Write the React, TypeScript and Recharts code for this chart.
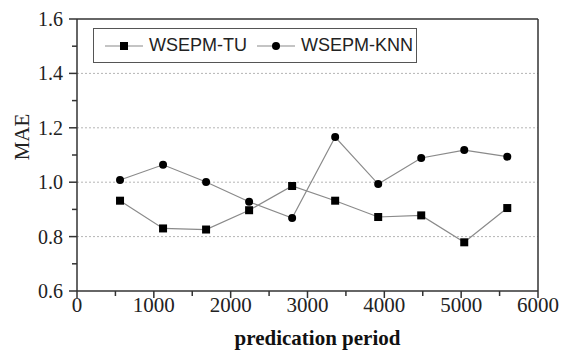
import React from 'react';
import {
  LineChart,
  Line,
  XAxis,
  YAxis,
  CartesianGrid,
  Legend,
  ReferenceLine,
} from 'recharts';

const periods = [560, 1120, 1680, 2240, 2800, 3360, 3920, 4480, 5040, 5600];
const tuValues = [0.932, 0.83, 0.826, 0.897, 0.986, 0.932, 0.872, 0.878, 0.779, 0.905];
const knnValues = [1.008, 1.064, 1.001, 0.928, 0.868, 1.166, 0.993, 1.089, 1.118, 1.094];

const xTicks = [0, 500, 1000, 1500, 2000, 2500, 3000, 3500, 4000, 4500, 5000, 5500, 6000];
const yTicks = [0.6, 0.7, 0.8, 0.9, 1.0, 1.1, 1.2, 1.3, 1.4, 1.5, 1.6];
const gridValues = [0.8, 1.0, 1.2, 1.4];

const SERIES = [
  { key: 'tu', name: 'WSEPM-TU', marker: 'square' },
  { key: 'knn', name: 'WSEPM-KNN', marker: 'circle' },
];

const data = periods.map((p, i) => ({ period: p, tu: tuValues[i], knn: knnValues[i] }));

const AXIS = '#333';
const LINE = '#8a8a8a';
const SERIF = '"Liberation Serif", "Times New Roman", serif';
const SANS = '"Liberation Sans", Arial, sans-serif';

const XTick = (props: any) => {
  const { x, y, payload } = props;
  const major = payload.value % 1000 === 0;
  return (
    <g>
      <line x1={x} x2={x} y1={y} y2={y + (major ? 7 : 5)} stroke={AXIS} strokeWidth={1.5} />
      {major && (
        <text x={x} y={y + 21} textAnchor="middle" fontFamily={SERIF} fontSize={21} fill="#222">
          {payload.value}
        </text>
      )}
    </g>
  );
};

const YTick = (props: any) => {
  const { x, y, payload } = props;
  const major = Math.round(payload.value * 10) % 2 === 0;
  return (
    <g>
      <line x1={x} x2={x - (major ? 8 : 5)} y1={y} y2={y} stroke={AXIS} strokeWidth={1.5} />
      {major && (
        <text x={x - 14} y={y} dy="0.35em" textAnchor="end" fontFamily={SERIF} fontSize={20} fill="#222">
          {payload.value.toFixed(1)}
        </text>
      )}
    </g>
  );
};

const SquareDot = (props: any) => {
  const { cx, cy } = props;
  if (cx == null || cy == null) return null;
  return <rect x={cx - 4} y={cy - 4} width={8} height={8} fill="#000" />;
};

const CircleDot = (props: any) => {
  const { cx, cy } = props;
  if (cx == null || cy == null) return null;
  return <circle cx={cx} cy={cy} r={4} fill="#000" />;
};

const LegendBox = () => (
  <div
    style={{
      boxSizing: 'border-box',
      width: 324,
      height: 35,
      border: '1.5px solid #555',
      display: 'flex',
      alignItems: 'center',
      paddingLeft: 11,
      fontFamily: SANS,
      fontSize: 18,
      color: '#222',
      background: '#fff',
    }}
  >
    {SERIES.map((s, i) => (
      <div key={s.key} style={{ display: 'flex', alignItems: 'center', marginLeft: i === 0 ? 0 : 10 }}>
        <svg width={38} height={12}>
          <line x1={0} x2={38} y1={6} y2={6} stroke={LINE} strokeWidth={1.2} />
          {s.marker === 'square' ? (
            <rect x={15} y={2} width={8} height={8} fill="#000" />
          ) : (
            <circle cx={19} cy={6} r={4} fill="#000" />
          )}
        </svg>
        <span style={{ marginLeft: 6 }}>{s.name}</span>
      </div>
    ))}
  </div>
);

export default function App() {
  return (
    <div style={{ position: 'absolute', left: 0, top: 0, background: '#fff' }}>
      <LineChart width={565} height={351} data={data} margin={{ top: 19, right: 27, left: 0, bottom: 0 }}>
        <CartesianGrid
          vertical={false}
          horizontalValues={gridValues}
          stroke="#b5b5b5"
          strokeDasharray="2 2"
        />
        <XAxis
          dataKey="period"
          type="number"
          domain={[0, 6000]}
          ticks={xTicks}
          interval={0}
          tick={<XTick />}
          tickLine={false}
          tickSize={0}
          tickMargin={0}
          height={60}
          axisLine={{ stroke: AXIS, strokeWidth: 1.5 }}
          label={(p: any) => {
            const vb = p.viewBox;
            return (
              <text
                x={vb.x + vb.width / 2 + 10}
                y={345}
                textAnchor="middle"
                fontFamily={SERIF}
                fontWeight="bold"
                fontSize={21}
                fill="#111"
              >
                predication period
              </text>
            );
          }}
        />
        <YAxis
          type="number"
          domain={[0.6, 1.6]}
          ticks={yTicks}
          interval={0}
          tick={<YTick />}
          tickLine={false}
          tickSize={0}
          tickMargin={0}
          width={77}
          axisLine={{ stroke: AXIS, strokeWidth: 1.5 }}
          label={(p: any) => {
            const vb = p.viewBox;
            return (
              <text
                x={22}
                y={vb.y + vb.height / 2 - 18}
                transform={`rotate(-90, 22, ${vb.y + vb.height / 2 - 18})`}
                textAnchor="middle"
                dy="0.35em"
                fontFamily={SERIF}
                fontSize={21}
                fill="#222"
              >
                MAE
              </text>
            );
          }}
        />
        <ReferenceLine y={1.6} stroke={AXIS} strokeWidth={1.5} />
        <ReferenceLine x={6000} stroke={AXIS} strokeWidth={1.5} />
        <Legend
          layout="horizontal"
          verticalAlign="middle"
          align="center"
          wrapperStyle={{ left: 93, top: 28, width: 324, height: 35 }}
          content={<LegendBox />}
        />
        <Line
          dataKey="tu"
          name="WSEPM-TU"
          stroke={LINE}
          strokeWidth={1.2}
          dot={<SquareDot />}
          activeDot={false}
          isAnimationActive={false}
        />
        <Line
          dataKey="knn"
          name="WSEPM-KNN"
          stroke={LINE}
          strokeWidth={1.2}
          dot={<CircleDot />}
          activeDot={false}
          isAnimationActive={false}
        />
      </LineChart>
    </div>
  );
}
